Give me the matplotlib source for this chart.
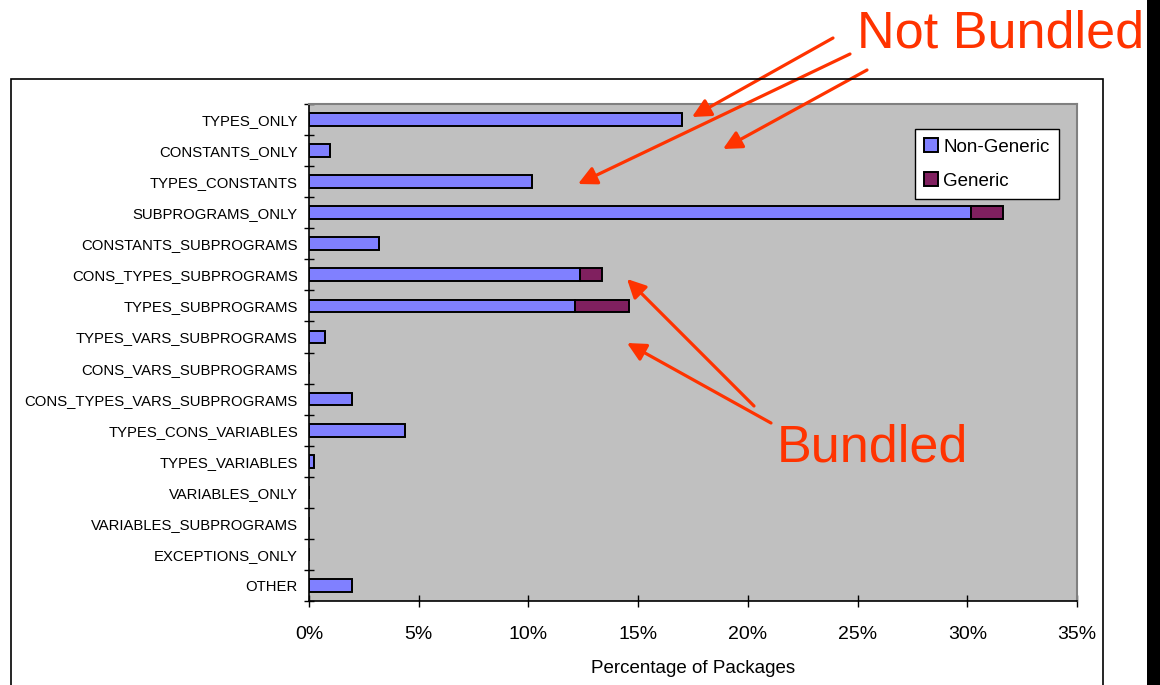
import matplotlib
matplotlib.use("Agg")
import matplotlib.pyplot as plt
from matplotlib.patches import Rectangle
from matplotlib.ticker import FixedLocator, PercentFormatter

plt.rcParams['font.family'] = ['Liberation Sans', 'DejaVu Sans']

categories = [
    "TYPES_ONLY", "CONSTANTS_ONLY", "TYPES_CONSTANTS", "SUBPROGRAMS_ONLY",
    "CONSTANTS_SUBPROGRAMS", "CONS_TYPES_SUBPROGRAMS", "TYPES_SUBPROGRAMS",
    "TYPES_VARS_SUBPROGRAMS", "CONS_VARS_SUBPROGRAMS",
    "CONS_TYPES_VARS_SUBPROGRAMS", "TYPES_CONS_VARIABLES", "TYPES_VARIABLES",
    "VARIABLES_ONLY", "VARIABLES_SUBPROGRAMS", "EXCEPTIONS_ONLY", "OTHER",
]
non_generic = [17.0, 0.96, 10.16, 30.16, 3.17, 12.37, 12.12, 0.73, 0.0,
               1.95, 4.39, 0.23, 0.0, 0.0, 0.0, 1.95]
generic = [0.0, 0.0, 0.0, 1.47, 0.0, 0.99, 2.47, 0.0, 0.0,
           0.0, 0.0, 0.0, 0.0, 0.0, 0.0, 0.0]
x_ticks = [0, 5, 10, 15, 20, 25, 30, 35]

W, H = 1160, 685
RED = '#FF3300'


def fig_xy(px, py):
    # pixel position (top-left origin) -> figure fraction
    return (px / W, 1 - py / H)


fig = plt.figure(figsize=(W / 100, H / 100), dpi=100)
fig.patch.set_facecolor('white')

# outer chart frame and dark strip on the right edge
fig.patches.append(Rectangle(fig_xy(11, 700), (1103 - 11) / W, (700 - 79) / H,
                             transform=fig.transFigure, fill=False,
                             edgecolor='black', lw=1.2, zorder=0))
fig.patches.append(Rectangle((1147 / W, 0), 1 - 1147 / W, 1,
                             transform=fig.transFigure, facecolor='black',
                             edgecolor='none', zorder=10))

ax = fig.add_axes([309 / W, 1 - 601 / H, (1077 - 309) / W, (601 - 104) / H])
ax.set_facecolor('#C0C0C0')

pos = list(range(len(categories)))
ax.barh(pos, non_generic, height=0.41, color='#8080FF', edgecolor='black',
        lw=1.4, label='Non-Generic', zorder=2)
ax.barh(pos, generic, left=non_generic, height=0.41, color='#80205F',
        edgecolor='black', lw=1.4, label='Generic', zorder=2)

ax.set_ylim(len(categories) - 0.5, -0.5)
ax.set_yticks(pos)
ax.set_yticklabels(categories, fontsize=10.7)
ax.yaxis.set_minor_locator(FixedLocator([p - 0.5 for p in pos] + [len(pos) - 0.5]))
ax.tick_params(axis='y', which='major', length=0, pad=8)
ax.tick_params(axis='y', which='minor', direction='inout', length=7, width=1)

ax.set_xlim(0, 35)
ax.set_xticks(x_ticks)
ax.xaxis.set_major_formatter(PercentFormatter(decimals=0))
ax.tick_params(axis='x', direction='inout', length=8, width=1, labelsize=14, pad=14)
ax.set_xlabel('Percentage of Packages', fontsize=13.5, labelpad=12)

for side in ('top', 'right'):
    ax.spines[side].set_color('#808080')
    ax.spines[side].set_linewidth(1.5)
for side in ('left', 'bottom'):
    ax.spines[side].set_color('black')
    ax.spines[side].set_linewidth(1.2)

leg = ax.legend(loc='upper left', bbox_to_anchor=fig_xy(915, 129),
                bbox_transform=fig.transFigure, borderaxespad=0,
                fontsize=13.5, handlelength=0.7, handleheight=0.7,
                handletextpad=0.3, labelspacing=0.9, borderpad=0.5,
                fancybox=False, framealpha=1, edgecolor='black')
leg.get_frame().set_linewidth(1.0)

# call-out labels with arrows
fig.text(*fig_xy(857, 47), 'Not Bundled', color=RED, fontsize=37.5,
         ha='left', va='baseline', zorder=5)
fig.text(*fig_xy(777, 462), 'Bundled', color=RED, fontsize=37.5,
         ha='left', va='baseline', zorder=5)

arrows = [
    ((833, 38), (692, 117)),
    ((850, 54), (578, 184)),
    ((867, 70), (723, 149)),
    ((754, 406), (627, 279)),
    ((771, 423), (627, 343)),
]
for tail, tip in arrows:
    ax.annotate('', xy=fig_xy(*tip), xycoords='figure fraction',
                xytext=fig_xy(*tail), textcoords='figure fraction',
                arrowprops=dict(arrowstyle='-|>', mutation_scale=28,
                                color=RED, lw=2.3, shrinkA=0, shrinkB=0),
                annotation_clip=False, zorder=6)

fig.savefig('out.png', dpi=100)
